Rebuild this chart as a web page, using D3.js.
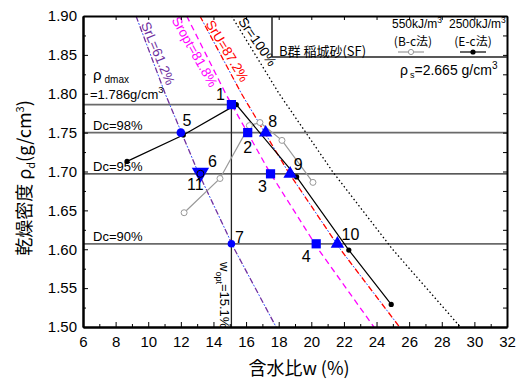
<!DOCTYPE html>
<html>
<head>
<meta charset="utf-8">
<script src="https://cdn.jsdelivr.net/npm/d3@7"></script>
<style>
  body { margin: 0; background: #fff; }
  svg text { font-family: "Liberation Sans", Arial, "Noto Sans CJK JP", sans-serif; fill: #000; }
  .jp { font-family: "Noto Sans CJK JP", "Liberation Sans", sans-serif; }
</style>
</head>
<body>
<div id="chart"></div>
<script>
// ---- data ----
var xTicks = [6, 8, 10, 12, 14, 16, 18, 20, 22, 24, 26, 28, 30, 32];
var yTicks = [1.50, 1.55, 1.60, 1.65, 1.70, 1.75, 1.80, 1.85, 1.90];

// saturation lines: w (%) read at these densities
var rhoLevels = [1.90, 1.80, 1.70, 1.60, 1.50];
var wSrL   = [9.25, 11.04, 13.04, 15.29, 17.84];
var wSropt = [12.36, 14.75, 17.42, 20.43, 23.84];
var wSrU   = [13.17, 15.72, 18.57, 21.78, 25.41];
var wSr100 = [15.11, 18.03, 21.30, 24.98, 29.14];

// compaction curves
var eW   = [8.7, 12.15, 15.4, 19.1, 22.3, 24.9];   // 2500kJ/m3 (E-c)
var eRho = [1.713, 1.747, 1.786, 1.693, 1.599, 1.529];
var bW   = [12.2, 14.4, 16.2, 16.85, 18.2, 20.1];  // 550kJ/m3 (B-c)
var bRho = [1.647, 1.691, 1.759, 1.763, 1.740, 1.686];

// test points
var ptIds   = [1, 2, 3, 4, 5, 6, 7, 8, 9, 10, 11];
var ptW     = [15.1, 16.1, 17.5, 20.3, 12.0, 13.2, 15.1, 17.2, 18.7, 21.6, 13.2];
var ptRho   = [1.786, 1.750, 1.697, 1.607, 1.750, 1.697, 1.607, 1.750, 1.697, 1.607, 1.697];
var ptShape = ["sq", "sq", "sq", "sq", "ci", "ci", "ci", "tu", "tu", "tu", "td"];

var rhoDmax = 1.786, wOpt = 15.1;
var dcLevels = [98, 95, 90];

// ---- layout ----
var W = 526, H = 381;
var pL = 83, pR = 507, pT = 16, pB = 327;

var svg = d3.select("#chart").append("svg")
  .attr("width", W).attr("height", H);

var x = d3.scaleLinear().domain([6, 32]).range([pL, pR]);
var y = d3.scaleLinear().domain([1.5, 1.9]).range([pB, pT]);

// reference lines
var dcRho = dcLevels.map(function (d) { return Math.round(rhoDmax * d / 100 * 1000) / 1000; });
svg.append("g").selectAll("line").data(dcRho).enter().append("line")
  .attr("x1", x(6)).attr("x2", x(32))
  .attr("y1", function (d) { return y(d); }).attr("y2", function (d) { return y(d); })
  .attr("stroke", function (d, i) { return i === 1 ? "#222" : "#6a6a6a"; })
  .attr("stroke-width", function (d, i) { return i === 1 ? 1.3 : 1.8; });

svg.append("line")
  .attr("x1", x(6)).attr("x2", x(wOpt))
  .attr("y1", y(rhoDmax)).attr("y2", y(rhoDmax))
  .attr("stroke", "#6a6a6a").attr("stroke-width", 1.8);
svg.append("line")
  .attr("x1", x(wOpt)).attr("x2", x(wOpt))
  .attr("y1", y(rhoDmax)).attr("y2", y(1.5))
  .attr("stroke", "#222").attr("stroke-width", 1.3);

// saturation lines
var line = d3.line().x(function (d) { return x(d[0]); }).y(function (d) { return y(d[1]); });
function pairs(ws) { return ws.map(function (w, i) { return [w, rhoLevels[i]]; }); }

var satLines = [
  { w: wSrL,   color: "#7030a0", dash: "6,5", extra: "#3355ff", label: "SrL=61.2%",   lw: 10.6, lr: 1.852 },
  { w: wSropt, color: "#ff00ff", dash: "6,4", extra: null,      label: "Sropt=81.8%", lw: 12.85, lr: 1.854 },
  { w: wSrU,   color: "#ff0000", dash: "6,5", extra: "#3355ff", label: "SrU=87.2%",   lw: 14.85, lr: 1.855 },
  { w: wSr100, color: "#000",    dash: "1.5,2.5", extra: null,  label: "Sr=100%",     lw: 16.7, lr: 1.867 }
];
satLines.forEach(function (s) {
  var p = pairs(s.w);
  svg.append("path").datum(p).attr("d", line)
    .attr("fill", "none").attr("stroke", s.color)
    .attr("stroke-width", 1.3).attr("stroke-dasharray", s.dash);
  if (s.extra) {
    svg.append("path").datum(p).attr("d", line)
      .attr("fill", "none").attr("stroke", s.extra).attr("stroke-width", 1)
      .attr("stroke-dasharray", "2,9").attr("stroke-dashoffset", 3.5);
  }
  var p0 = p[0], p1 = p[p.length - 1];
  var ang = Math.atan2(y(p1[1]) - y(p0[1]), x(p1[0]) - x(p0[0])) * 180 / Math.PI;
  svg.append("text")
    .attr("transform", "translate(" + x(s.lw) + "," + y(s.lr) + ") rotate(" + (ang + 1.5) + ")")
    .attr("text-anchor", "middle").attr("dy", "0.35em")
    .attr("font-size", 13.5).style("fill", s.color)
    .text(s.label);
});

// compaction curves
var bPts = bW.map(function (w, i) { return [w, bRho[i]]; });
var ePts = eW.map(function (w, i) { return [w, eRho[i]]; });
svg.append("path").datum(bPts).attr("d", line)
  .attr("fill", "none").attr("stroke", "#999").attr("stroke-width", 1.2);
svg.append("path").datum(ePts).attr("d", line)
  .attr("fill", "none").attr("stroke", "#000").attr("stroke-width", 1.2);
svg.append("g").selectAll("circle").data(bPts).enter().append("circle")
  .attr("cx", function (d) { return x(d[0]); }).attr("cy", function (d) { return y(d[1]); })
  .attr("r", 3).attr("fill", "#fff").attr("stroke", "#999").attr("stroke-width", 1);
svg.append("g").selectAll("circle").data(ePts).enter().append("circle")
  .attr("cx", function (d) { return x(d[0]); }).attr("cy", function (d) { return y(d[1]); })
  .attr("r", 2.6).attr("fill", "#000");

// test points
var sym = {
  sq: d3.symbol().type(d3.symbolSquare).size(85),
  ci: d3.symbol().type(d3.symbolCircle).size(58),
  tu: d3.symbol().type(d3.symbolTriangle).size(78),
  td: d3.symbol().type(d3.symbolTriangle).size(130)
};
var order = [10, 0, 1, 2, 3, 4, 5, 6, 7, 8, 9]; // draw 11 first so 6 sits on top
order.forEach(function (i) {
  var s = ptShape[i];
  var g = svg.append("path")
    .attr("d", sym[s]())
    .attr("transform", "translate(" + x(ptW[i]) + "," + (y(ptRho[i]) + (s === "td" ? -1 : 0)) + ")" + (s === "td" ? " rotate(180)" : ""))
    .attr("fill", "#0000ff");
  if (ptIds[i] === 6) g.attr("stroke", "#000").attr("stroke-width", 1).attr("d", d3.symbol().type(d3.symbolCircle).size(40)());
  if (ptIds[i] === 7) g.attr("d", d3.symbol().type(d3.symbolCircle).size(45)());
});

var labelOffset = {
  1: [-11, -5], 2: [0, 20], 3: [-8, 18], 4: [-10, 18], 5: [6, -7], 6: [12, -7],
  7: [8, -1], 8: [7, -6], 9: [8, -4], 10: [13, -4], 11: [-5, 16]
};
svg.append("g").selectAll("text").data(ptIds).enter().append("text")
  .attr("x", function (d, i) { return x(ptW[i]) + labelOffset[d][0]; })
  .attr("y", function (d, i) { return y(ptRho[i]) + labelOffset[d][1]; })
  .attr("text-anchor", "middle").attr("font-size", 16)
  .text(function (d) { return d; });

// axes
function styleAxis(g) {
  g.select(".domain").attr("stroke", "#000").attr("stroke-width", 2);
  g.selectAll(".tick line").attr("stroke", "#000").attr("stroke-width", 1);
  g.selectAll(".tick text").attr("font-size", 15).style("font-family", "'Liberation Sans', Arial, sans-serif");
}
var xMinor = d3.range(7, 32, 2);
var yMinor = yTicks.slice(0, -1).map(function (d) { return d + 0.025; });
var yAll = yTicks.concat(yMinor);

svg.append("g").attr("transform", "translate(0," + pB + ")")
  .call(d3.axisBottom(x).tickValues(xMinor).tickSizeInner(-3).tickSizeOuter(0).tickFormat(""))
  .call(styleAxis);
svg.append("g").attr("transform", "translate(0," + pB + ")")
  .call(d3.axisBottom(x).tickValues(xTicks).tickSizeInner(-5).tickSizeOuter(0).tickPadding(9).tickFormat(d3.format("d")))
  .call(styleAxis);
svg.append("g").attr("transform", "translate(0," + pT + ")")
  .call(d3.axisTop(x).tickValues(xTicks).tickSizeInner(-4).tickSizeOuter(0).tickFormat(""))
  .call(styleAxis);
svg.append("g").attr("transform", "translate(" + pL + ",0)")
  .call(d3.axisLeft(y).tickValues(yMinor).tickSizeInner(-3).tickSizeOuter(0).tickFormat(""))
  .call(styleAxis);
svg.append("g").attr("transform", "translate(" + pL + ",0)")
  .call(d3.axisLeft(y).tickValues(yTicks).tickSizeInner(-5).tickSizeOuter(0).tickPadding(6).tickFormat(d3.format(".2f")))
  .call(styleAxis);
svg.append("g").attr("transform", "translate(" + pR + ",0)")
  .call(d3.axisRight(y).tickValues(yAll).tickSizeInner(-4).tickSizeOuter(0).tickFormat(""))
  .call(styleAxis);

// axis titles
svg.append("text").attr("class", "jp")
  .attr("x", (pL + pR) / 2 + 4).attr("y", 375)
  .attr("text-anchor", "middle").attr("font-size", 18)
  .text("含水比w (%)");

var yt = svg.append("text").attr("class", "jp")
  .attr("transform", "translate(31,178) rotate(-90)")
  .attr("text-anchor", "middle").attr("font-size", 18);
yt.append("tspan").text("乾燥密度 ρ");
yt.append("tspan").attr("font-size", 11).attr("dy", 4).text("d");
yt.append("tspan").attr("dy", -4).text("(g/cm");
yt.append("tspan").attr("font-size", 11).attr("dy", -7).text("3");
yt.append("tspan").attr("dy", 7).text(")");

// annotations
var rd = svg.append("text").attr("x", 93).attr("y", 80).attr("font-size", 15);
rd.append("tspan").text("ρ");
rd.append("tspan").attr("font-size", 10).attr("dx", 3).attr("dy", 3).text("dmax");
var rv = svg.append("text").attr("x", 90).attr("y", 99).attr("font-size", 13);
rv.append("tspan").text("=" + rhoDmax + "g/cm");
rv.append("tspan").attr("font-size", 9.5).attr("dy", -6).text("3");

svg.append("g").selectAll("text").data(dcLevels).enter().append("text")
  .attr("x", 93).attr("y", function (d, i) { return y(dcRho[i]) - 3; })
  .attr("font-size", 13)
  .text(function (d) { return "Dc=" + d + "%"; });

var wo = svg.append("text")
  .attr("transform", "translate(" + (x(wOpt) - 11) + "," + 262 + ") rotate(90)")
  .attr("font-size", 13);
wo.append("tspan").text("w");
wo.append("tspan").attr("font-size", 9).attr("dy", 4).text("opt");
wo.append("tspan").attr("dy", -4).text("=" + wOpt + "%");

// legend box
svg.append("path")
  .attr("d", "M272," + pT + "V57H" + pR)
  .attr("fill", "none").attr("stroke", "#222").attr("stroke-width", 1.5);
svg.append("text").attr("class", "jp").attr("x", 279).attr("y", 56).attr("font-size", 13)
  .text("B群  稲城砂(SF)");

var l1 = svg.append("text").attr("x", 392).attr("y", 28).attr("font-size", 12);
l1.append("tspan").text("550kJ/m");
l1.append("tspan").attr("font-size", 8.5).attr("dy", -5).text("3");
var l2 = svg.append("text").attr("x", 449).attr("y", 28).attr("font-size", 12);
l2.append("tspan").text("2500kJ/m");
l2.append("tspan").attr("font-size", 8.5).attr("dy", -5).text("3");
svg.append("text").attr("class", "jp").attr("x", 413).attr("y", 46).attr("text-anchor", "middle")
  .attr("font-size", 12).text("(B-c法)");
svg.append("text").attr("class", "jp").attr("x", 473).attr("y", 46).attr("text-anchor", "middle")
  .attr("font-size", 12).text("(E-c法)");
svg.append("line").attr("x1", 398).attr("x2", 424).attr("y1", 52).attr("y2", 52)
  .attr("stroke", "#999").attr("stroke-width", 1.2);
svg.append("circle").attr("cx", 411).attr("cy", 52).attr("r", 2.6)
  .attr("fill", "#fff").attr("stroke", "#999");
svg.append("line").attr("x1", 460).attr("x2", 486).attr("y1", 52).attr("y2", 52)
  .attr("stroke", "#000").attr("stroke-width", 1.2);
svg.append("circle").attr("cx", 473).attr("cy", 52).attr("r", 2.6).attr("fill", "#000");

var rs = svg.append("text").attr("x", 400).attr("y", 75).attr("font-size", 14);
rs.append("tspan").text("ρ");
rs.append("tspan").attr("font-size", 9).attr("dx", 2).attr("dy", 3).text("s");
rs.append("tspan").attr("dy", -3).text("=2.665  g/cm");
rs.append("tspan").attr("font-size", 10).attr("dy", -6).text("3");
</script>
</body>
</html>
